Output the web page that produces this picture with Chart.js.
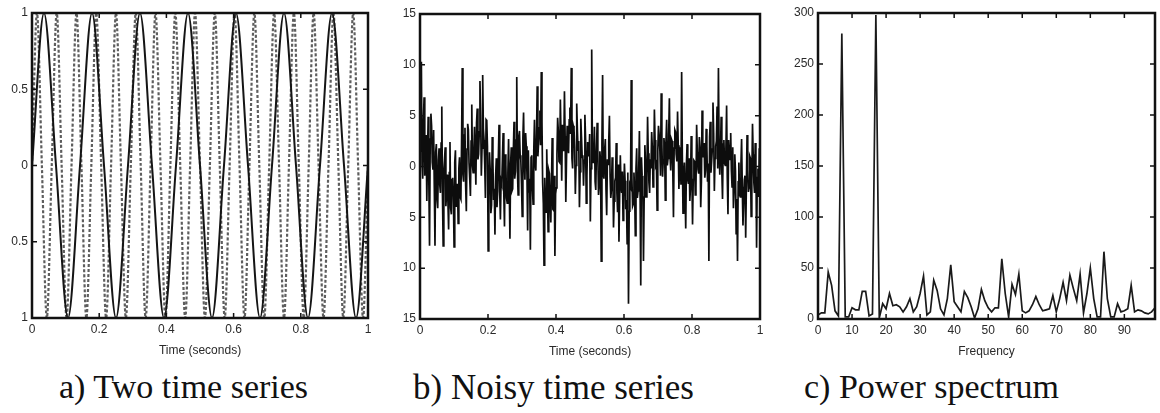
<!DOCTYPE html>
<html>
<head>
<meta charset="utf-8">
<script src="https://cdn.jsdelivr.net/npm/chart.js@4.4.1/dist/chart.umd.min.js"></script>
<style>
  body { margin: 0; background: #fff; width: 1160px; height: 413px; overflow: hidden; position: relative; }
  canvas { position: absolute; top: 0; }
  .cap { position: absolute; top: 370px; font-family: 'Liberation Serif', serif; font-size: 34px; line-height: 1; color: #111; white-space: nowrap; }
</style>
</head>
<body>
<canvas id="chartA" width="380" height="365" style="left:0"></canvas>
<canvas id="chartB" width="400" height="366" style="left:380px"></canvas>
<canvas id="chartC" width="390" height="366" style="left:770px"></canvas>
<div class="cap" style="left:59px">a) Two time series</div>
<div class="cap" style="left:413px; font-size:35px">b) Noisy time series</div>
<div class="cap" style="left:804px">c) Power spectrum</div>
<script>
// a) two sine waves, read at peaks / zero crossings
var slowTimes = [0, .0357, .0714, .1071, .1429, .1786, .2143, .25, .2857, .3214, .3571, .3929, .4286, .4643, .5,
  .5357, .5714, .6071, .6429, .6786, .7143, .75, .7857, .8214, .8571, .8929, .9286, .9643, 1];
var slowValues = [0, 1, 0, -1, 0, 1, 0, -1, 0, 1, 0, -1, 0, 1, 0, -1, 0, 1, 0, -1, 0, 1, 0, -1, 0, 1, 0, -1, 0];

var fastTimes = [0, .0147, .0294, .0441, .0588, .0735, .0882, .1029, .1176, .1324, .1471, .1618, .1765, .1912,
  .2059, .2206, .2353, .25, .2647, .2794, .2941, .3088, .3235, .3382, .3529, .3676, .3824, .3971, .4118, .4265,
  .4412, .4559, .4706, .4853, .5, .5147, .5294, .5441, .5588, .5735, .5882, .6029, .6176, .6324, .6471, .6618,
  .6765, .6912, .7059, .7206, .7353, .75, .7647, .7794, .7941, .8088, .8235, .8382, .8529, .8676, .8824, .8971,
  .9118, .9265, .9412, .9559, .9706, .9853, 1];
var fastValues = [0, 1, 0, -1, 0, 1, 0, -1, 0, 1, 0, -1, 0, 1, 0, -1, 0, 1, 0, -1, 0, 1, 0, -1, 0, 1, 0, -1,
  0, 1, 0, -1, 0, 1, 0, -1, 0, 1, 0, -1, 0, 1, 0, -1, 0, 1, 0, -1, 0, 1, 0, -1, 0, 1, 0, -1, 0, 1, 0, -1,
  0, 1, 0, -1, 0, 1, 0, -1, 0];

// b) noisy series, evenly sampled over 0..1 s (two interleaved sample sets)
var noisyValues = [
  1.5, 10.3, -1.2, 6.8, 2.1, -3.4, 4.9, -7.8, 5.2, 0.4,
  3.6, -7.8, 2.2, -4.1, 1.8, -2.6, 5.9, -7.8, 0.7, -3.9,
  -0.8, -6.2, 2.4, -4.7, -1.1, -7.9, 1.6, -3.8, -5.6, 0.9,
  -3.2, 9.7, -1.5, 3.8, -4.4, 4.2, 0.3, -2.9, 6.1, -0.6,
  3.9, -1.8, 5.7, 1.2, 8.4, -0.9, 9.0, 2.6, -3.1, 4.5,
  -8.3, 1.4, -4.6, 2.9, -3.3, -6.7, 0.8, -2.4, 4.1, -5.2,
  -1.7, 3.3, -5.9, 0.2, -3.6, 2.7, -7.1, 1.9, -2.2, 4.4,
  -0.5, 8.8, -2.8, 3.5, 0.6, -4.9, 5.3, -1.3, 2.0, -6.3,
  -2.5, -8.2, 1.1, -3.7, 4.6, -0.4, 7.9, 2.3, 5.5, 9.3,
  -1.6, -9.7, -3.2, 1.7, -6.4, -0.7, -5.5, 2.8, -4.3, -8.8,
  -2.1, 4.8, 0.5, 6.6, -1.4, 3.1, 7.4, -3.5, 4.0, 1.3,
  5.8, 9.7, -0.2, 3.7, -2.7, 6.2, 1.6, -4.0, 4.7, 0.9,
  -1.9, 5.1, -3.6, 2.4, 1.0, -5.4, 11.5, 0.4, 3.9, -2.3,
  4.3, -2.8, 1.5, -9.3, 9.0, -1.2, 2.7, -4.8, 0.2, 5.0,
  -3.1, 0.9, -6.0, -1.4, 2.3, -4.5, -7.4, 1.1, -2.6, -5.3,
  0.3, -4.2, -7.6, -13.5, -1.8, 8.5, -3.9, -0.6, -6.8, 1.8,
  -2.4, 3.5, -11.7, -0.9, -9.3, 2.1, -3.0, 4.9, -1.6, 0.7,
  3.4, -2.0, 5.6, 0.1, -4.3, 4.0, 1.7, 7.2, -1.0, 2.8,
  -3.3, 4.6, 0.8, 6.7, -0.4, 2.5, -5.0, 3.6, 1.2, 5.4,
  -2.2, 1.9, 9.3, -4.6, 0.4, -6.1, 2.2, -1.7, -3.4, 3.0,
  -5.7, 0.6, -2.8, 4.1, -0.3, 2.9, -4.0, 5.5, 1.4, -1.1,
  3.7, -1.5, -9.3, 4.4, 0.5, 6.3, -2.4, 2.0, 5.9, 9.7,
  -0.8, 4.9, -3.2, 2.6, 0.1, 6.0, -4.7, 1.5, 3.3, -2.0,
  -4.1, 1.2, -6.6, -9.3, 0.4, -3.0, 2.7, -5.8, -1.3, -7.0,
  3.1, -2.5, 1.0, -4.9, 4.2, -1.6, 2.3, -8.0, -0.2, 1.8
];
var noisyBetween = [
  3.8, 0.2, 4.5, -0.9, 3.1, 1.0, -1.6, 2.7, 4.0, -0.3,
  -2.1, 1.4, -3.3, 0.6, -1.8, 2.3, -2.9, -0.4, 1.9, -2.6,
  -3.5, -0.6, -4.1, -1.3, -2.8, 0.4, -3.9, -1.7, -0.2, -3.0,
  2.2, -0.8, 3.1, -1.9, 1.7, 3.6, -1.2, 2.5, 0.1, 1.4,
  1.1, 4.3, 0.7, 3.4, 5.1, 1.8, 3.7, 0.2, 4.6, 2.0,
  -2.9, -0.3, -3.8, 0.5, -2.2, -1.0, -4.0, 0.9, -2.5, -1.4,
  0.8, -2.7, 1.2, -3.1, -0.6, -1.9, 0.3, -2.4, 1.5, -1.2,
  2.6, -0.4, 3.0, 1.1, -1.7, 2.8, 0.4, 3.3, -0.8, 1.6,
  -1.2, 0.9, -2.1, 1.6, 0.3, 2.9, 1.0, 3.8, 2.1, 4.4,
  -3.6, -1.1, -4.5, -2.0, -0.4, -3.3, -1.6, -4.2, -0.9, -2.7,
  1.2, 3.5, 0.4, 2.8, 4.1, 1.5, 3.0, 0.6, 2.4, 4.6,
  3.2, 0.8, 4.0, 1.9, 0.1, 3.6, 2.5, -0.5, 2.9, 1.1,
  0.6, 2.7, -0.9, 1.8, 3.2, -0.2, 2.1, 0.9, -1.5, 1.7,
  1.3, -1.9, 0.5, 2.2, -0.8, 1.6, -2.3, 0.7, 2.4, -1.0,
  -2.2, -0.3, -3.4, -1.1, -2.6, 0.2, -3.0, -1.8, -0.5, -2.9,
  -1.4, -3.3, -0.6, -4.4, -2.0, -1.1, -3.7, -2.4, -0.2, -3.1,
  -0.5, -2.3, 0.9, -1.7, -3.0, 0.4, -1.1, 1.3, -2.6, -0.2,
  1.8, -0.6, 2.6, 0.3, 1.5, 3.1, -0.9, 2.2, 0.6, 1.9,
  2.4, 0.1, 3.2, 1.0, 2.7, -0.3, 1.8, 3.4, 0.5, 2.1,
  0.4, -1.8, 1.1, -0.9, -2.5, 0.2, -1.3, 0.8, -2.0, -0.6,
  -1.3, 0.5, -2.2, 1.4, -0.7, 1.9, -1.5, 0.9, 2.3, -0.4,
  2.0, 0.3, 2.9, -0.6, 1.7, 3.3, 0.8, 2.5, -0.2, 1.6,
  1.4, -0.5, 2.2, 0.3, 1.8, -1.1, 2.6, 0.7, -0.4, 1.9,
  -2.3, -0.4, -3.2, -1.5, -2.8, 0.1, -2.0, -3.5, -0.9, -1.8,
  -0.3, -2.1, 0.8, -1.4, 1.2, -2.6, 0.2, -1.1, -3.0, 0.5
];

// c) power spectrum, one value per frequency 0..99
var spectrumPower = [
  4, 6, 6, 46, 33, 8, 3, 280, 2, 2,
  11, 9, 9, 27, 27, 3, 5, 298, 1, 15,
  10, 25, 13, 14, 12, 7, 12, 20, 7, 12,
  25, 42, 4, 7, 38, 28, 10, 4, 20, 53,
  17, 12, 7, 27, 21, 12, 1, 10, 29, 18,
  11, 7, 11, 11, 59, 25, 2, 34, 24, 44,
  8, 6, 8, 14, 22, 14, 8, 9, 10, 23,
  7, 20, 36, 18, 43, 30, 18, 44, 6, 25,
  50, 20, 2, 2, 66, 20, 2, 2, 15, 7,
  8, 10, 33, 7, 9, 8, 6, 5, 7, 11
];

// MATLAB-like box with inward ticks on all four sides
var matlabBox = {
  id: 'matlabBox',
  afterDatasetsDraw: function (chart) {
    var a = chart.chartArea, c = chart.ctx, sx = chart.scales.x, sy = chart.scales.y;
    c.save();
    c.strokeStyle = '#111';
    c.lineWidth = 1.5;
    c.beginPath();
    sx.ticks.forEach(function (t) {
      var p = sx.getPixelForValue(t.value);
      c.moveTo(p, a.bottom); c.lineTo(p, a.bottom - 5);
      c.moveTo(p, a.top); c.lineTo(p, a.top + 5);
    });
    sy.ticks.forEach(function (t) {
      var p = sy.getPixelForValue(t.value);
      c.moveTo(a.left, p); c.lineTo(a.left + 5, p);
      c.moveTo(a.right, p); c.lineTo(a.right - 5, p);
    });
    c.stroke();
    c.lineWidth = 2.5;
    c.strokeRect(a.left, a.top, a.right - a.left, a.bottom - a.top);
    c.restore();
  }
};

var tickFont = { family: 'Liberation Sans', size: 12 };

function xAxis(min, max, step, title) {
  return {
    type: 'linear', min: min, max: max,
    grid: { display: false, drawTicks: false },
    border: { display: false },
    afterBuildTicks: function (s) {
      s.ticks = s.ticks.filter(function (t) { return Math.abs(t.value / step - Math.round(t.value / step)) < 1e-6; });
    },
    afterFit: function (s) { s.height = 47; },
    ticks: {
      stepSize: step, padding: 4, color: '#2a2a2a', font: tickFont, maxRotation: 0,
      callback: function (v) { return String(Math.round(v * 10) / 10); }
    },
    title: { display: true, text: title, color: '#2a2a2a', font: { family: 'Liberation Sans', size: 12 }, padding: { top: 0, bottom: 7 } }
  };
}

function yAxis(min, max, step, width) {
  return {
    min: min, max: max,
    grid: { display: false, drawTicks: false },
    border: { display: false },
    afterFit: function (s) { s.width = width; },
    ticks: {
      stepSize: step, padding: 4, color: '#2a2a2a', font: tickFont,
      callback: function (v) { return String(Math.abs(v)); }
    }
  };
}

function pairs(xs, ys) {
  return ys.map(function (v, i) { return { x: xs[i], y: v }; });
}

Chart.defaults.animation = false;
Chart.defaults.plugins.legend.display = false;
Chart.defaults.plugins.tooltip.enabled = false;

new Chart(document.getElementById('chartA'), {
  type: 'line',
  data: {
    datasets: [{
      data: pairs(slowTimes, slowValues),
      borderColor: '#151515', borderWidth: 2, pointRadius: 0,
      cubicInterpolationMode: 'monotone'
    }, {
      data: pairs(fastTimes, fastValues),
      borderColor: '#5e5e5e', borderWidth: 2.2, borderDash: [3, 2], pointRadius: 0,
      cubicInterpolationMode: 'monotone'
    }]
  },
  options: {
    responsive: false, devicePixelRatio: 1,
    layout: { padding: { left: 0, right: 12, top: 13, bottom: 0 } },
    scales: { x: xAxis(0, 1, 0.2, 'Time (seconds)'), y: yAxis(-1, 1, 0.5, 32) }
  },
  plugins: [matlabBox]
});

var noisyAll = [];
noisyValues.forEach(function (v, i) { noisyAll.push(v, noisyBetween[i]); });
var noisyTimes = noisyAll.map(function (v, i) { return i / (noisyAll.length - 1); });

new Chart(document.getElementById('chartB'), {
  type: 'line',
  data: {
    datasets: [{
      data: pairs(noisyTimes, noisyAll),
      borderColor: '#0d0d0d', borderWidth: 1.7, pointRadius: 0
    }]
  },
  options: {
    responsive: false, devicePixelRatio: 1,
    layout: { padding: { left: 0, right: 20, top: 14, bottom: 0 } },
    scales: { x: xAxis(0, 1, 0.2, 'Time (seconds)'), y: yAxis(-15, 15, 5, 40) }
  },
  plugins: [matlabBox]
});

var spectrumFreqs = spectrumPower.map(function (v, i) { return i; });

new Chart(document.getElementById('chartC'), {
  type: 'line',
  data: {
    datasets: [{
      data: pairs(spectrumFreqs, spectrumPower),
      borderColor: '#1a1a1a', borderWidth: 1.7, pointRadius: 0
    }]
  },
  options: {
    responsive: false, devicePixelRatio: 1,
    layout: { padding: { left: 0, right: 5, top: 13, bottom: 0 } },
    scales: { x: xAxis(0, 99, 10, 'Frequency'), y: yAxis(0, 300, 50, 48) }
  },
  plugins: [matlabBox]
});
</script>
</body>
</html>
